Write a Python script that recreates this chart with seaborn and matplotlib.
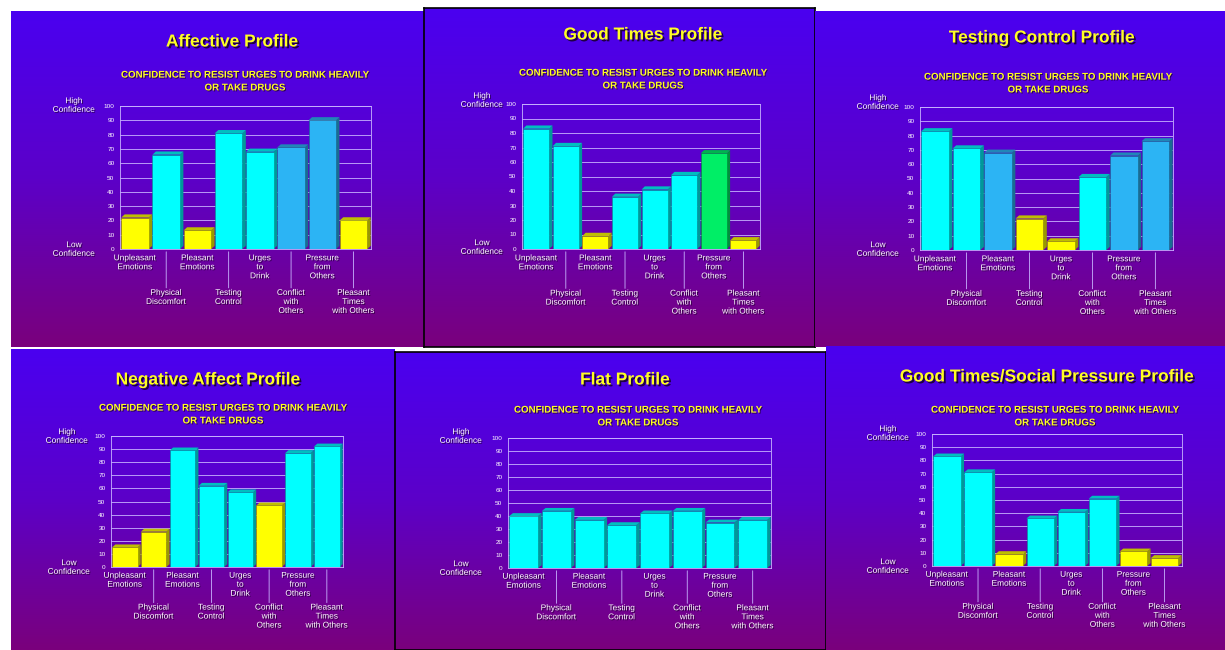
import numpy as np
import matplotlib
matplotlib.use("Agg")
import matplotlib.pyplot as plt
import matplotlib.patheffects as pe
from matplotlib.colors import LinearSegmentedColormap, to_rgb
from matplotlib.patches import Polygon
import seaborn as sns

# --- DATA ---
categories = ["Unpleasant\nEmotions", "Physical\nDiscomfort", "Pleasant\nEmotions",
              "Testing\nControl", "Urges\nto\nDrink", "Conflict\nwith\nOthers",
              "Pressure\nfrom\nOthers", "Pleasant\nTimes\nwith Others"]

titles = ["Affective Profile", "Good Times Profile", "Testing Control Profile",
          "Negative Affect Profile", "Flat Profile", "Good Times/Social Pressure Profile"]

affective = [22, 66, 13, 81, 68, 71, 90, 20]
good_times = [83, 71, 9, 36, 41, 51, 66, 6]
testing_control = [83, 71, 68, 22, 6, 51, 66, 76]
negative_affect = [15, 27, 89, 62, 57, 47, 87, 92]
flat = [40, 44, 37, 33, 42, 44, 35, 37]
social_pressure = [83, 71, 9, 36, 41, 51, 11, 6]

# bar groups: Y = yellow, C = cyan, B = blue, G = green
affective_grp = ["Y", "C", "Y", "C", "C", "B", "B", "Y"]
good_times_grp = ["C", "C", "Y", "C", "C", "C", "G", "Y"]
testing_control_grp = ["C", "C", "B", "Y", "Y", "C", "B", "B"]
negative_affect_grp = ["Y", "Y", "C", "C", "C", "Y", "C", "C"]
flat_grp = ["C", "C", "C", "C", "C", "C", "C", "C"]
social_pressure_grp = ["C", "C", "Y", "C", "C", "C", "Y", "Y"]

profiles = [affective, good_times, testing_control, negative_affect, flat, social_pressure]
groups = [affective_grp, good_times_grp, testing_control_grp, negative_affect_grp,
          flat_grp, social_pressure_grp]

# --- STYLE / LAYOUT ---
W, H = 1225, 650
group_colors = {"Y": "#ffff00", "C": "#00ffff", "B": "#2cb4f4", "G": "#00ee66"}

# panel background boxes (x0, y0, x1, y1) in pixels from top-left
panels = [(11, 11, 424, 347), (424, 8, 815, 347), (815, 11, 1225, 347),
          (11, 349, 395, 650), (395, 352, 826, 650), (826, 346, 1225, 650)]
# plot areas (left, top, right, bottom)
plot_boxes = [(120, 106, 371, 249), (522, 104, 760, 249), (920, 107, 1173, 250),
              (111, 436, 343, 567), (508, 438, 771, 568), (932, 434, 1182, 566)]
title_pos = [(232, 42), (643, 35), (1042, 38), (208, 380), (625, 380), (1047, 377)]
sub_pos = [(245, 81), (643, 79), (1048, 83), (223, 414), (638, 416), (1055, 416)]
high_pos = [(74, 106), (482, 101), (878, 103), (67, 437), (461, 437), (888, 434)]
low_pos = [(74, 250), (482, 248), (878, 250), (69, 568), (461, 569), (888, 567)]
bordered = [False, True, False, False, True, False]

sns.set_theme(style="white")
plt.rcParams['font.family'] = ['Liberation Sans', 'DejaVu Sans']

fig = plt.figure(figsize=(W / 100, H / 100), dpi=100, facecolor="white")

bg_cmap = LinearSegmentedColormap.from_list("bg", ["#4a00f0", "#5c00c8", "#7a007c"])
grad = np.linspace(0, 1, 256).reshape(-1, 1)

shadow = [pe.withSimplePatchShadow(offset=(1.3, -1.3), shadow_rgbFace="#1a0030", alpha=0.9)]
small_shadow = [pe.withSimplePatchShadow(offset=(0.7, -0.7), shadow_rgbFace="#200030", alpha=0.8)]
grid_col = "#c8b4ff"


def fx(x):
    return x / W


def fy(y):
    return 1 - y / H


def shade(c, k):
    r, g, b = to_rgb(c)
    return (r * k, g * k, b * k)


for i in range(6):
    x0, y0, x1, y1 = panels[i]
    bg = fig.add_axes([fx(x0), fy(y1), (x1 - x0) / W, (y1 - y0) / H])
    bg.imshow(grad, aspect="auto", cmap=bg_cmap, extent=(0, 1, 0, 1))
    bg.set_xticks([])
    bg.set_yticks([])
    for s in bg.spines.values():
        s.set_visible(bordered[i])
        s.set_color("black")
        s.set_linewidth(1.2)

    # titles
    fig.text(fx(title_pos[i][0]), fy(title_pos[i][1]), titles[i], ha="center", va="center",
             color="#ffff22", fontsize=12.5, fontweight="bold", path_effects=shadow)
    fig.text(fx(sub_pos[i][0]), fy(sub_pos[i][1]),
             "CONFIDENCE TO RESIST URGES TO DRINK HEAVILY\nOR TAKE DRUGS",
             ha="center", va="center", color="#ffff22", fontsize=7, fontweight="bold",
             linespacing=1.35, path_effects=small_shadow)
    fig.text(fx(high_pos[i][0]), fy(high_pos[i][1]), "High\nConfidence", ha="center",
             va="center", color="white", fontsize=6, linespacing=1.35,
             path_effects=small_shadow)
    fig.text(fx(low_pos[i][0]), fy(low_pos[i][1]), "Low\nConfidence", ha="center",
             va="center", color="white", fontsize=6, linespacing=1.35,
             path_effects=small_shadow)

    # chart
    l, t, r, b = plot_boxes[i]
    ax = fig.add_axes([fx(l), fy(b), (r - l) / W, (b - t) / H])
    ax.set_facecolor("none")
    pal = {c: group_colors[g] for c, g in zip(categories, groups[i])}
    sns.barplot(x=categories, y=profiles[i], hue=categories, palette=pal, legend=False,
                width=0.88, saturation=1, ax=ax, zorder=3)
    ax.set_ylim(0, 100)
    ax.set_xlim(-0.48, 7.56)
    ax.set_yticks(range(0, 101, 10))
    ax.set_yticklabels([str(v) for v in range(0, 101, 10)], fontsize=4.6, color="white")
    ax.tick_params(axis="y", length=2.5, width=0.5, color=grid_col, pad=1.5)
    ax.tick_params(axis="x", length=0, labelbottom=False)
    ax.set_xlabel("")
    ax.set_ylabel("")
    ax.grid(axis="y", color=grid_col, linewidth=0.6, zorder=0)
    ax.set_axisbelow(True)
    for s in ax.spines.values():
        s.set_visible(True)
        s.set_color(grid_col)
        s.set_linewidth(0.6)

    # 3D faces
    dx, dy = 0.11, 2.2
    for cont in ax.containers:
        for bar in cont:
            bx, bw, bh = bar.get_x(), bar.get_width(), bar.get_height()
            col = bar.get_facecolor()
            bar.set_edgecolor(shade(col, 0.55))
            bar.set_linewidth(0.4)
            side = Polygon([(bx + bw, 0), (bx + bw + dx, dy), (bx + bw + dx, bh + dy), (bx + bw, bh)],
                           closed=True, facecolor=shade(col, 0.6), edgecolor="none",
                           zorder=2.5, clip_on=False)
            top = Polygon([(bx, bh), (bx + dx, bh + dy), (bx + bw + dx, bh + dy), (bx + bw, bh)],
                          closed=True, facecolor=shade(col, 0.75), edgecolor="none",
                          zorder=2.6, clip_on=False)
            ax.add_patch(side)
            ax.add_patch(top)

    # staggered category labels
    sc = (b - t) / 143
    for j, cat in enumerate(categories):
        if j % 2 == 0:
            ax.annotate(cat, xy=(j, 0), xytext=(0, -4.5 * sc), textcoords="offset points",
                        ha="center", va="top", color="white", fontsize=6,
                        linespacing=1.4, path_effects=small_shadow)
        else:
            ax.annotate("", xy=(j, 0), xytext=(0, -28 * sc), textcoords="offset points",
                        arrowprops=dict(arrowstyle="-", color=grid_col, lw=0.6,
                                        shrinkA=0, shrinkB=2))
            ax.annotate(cat, xy=(j, 0), xytext=(0, -29.5 * sc), textcoords="offset points",
                        ha="center", va="top", color="white", fontsize=6,
                        linespacing=1.4, path_effects=small_shadow)

fig.savefig("out.png", dpi=100, facecolor="white")
